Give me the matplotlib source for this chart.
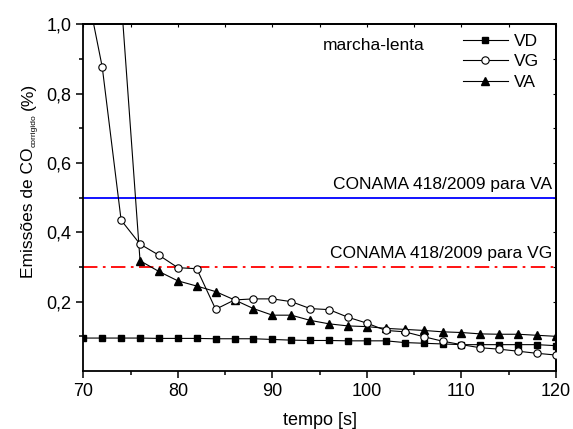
import matplotlib
matplotlib.use("Agg")
import matplotlib.pyplot as plt
from matplotlib.ticker import FixedLocator, MultipleLocator, FuncFormatter

plt.rcParams['font.family'] = ['Liberation Sans', 'DejaVu Sans']

# tempo [s]
tempo = [70, 72, 74, 76, 78, 80, 82, 84, 86, 88, 90, 92, 94, 96, 98,
         100, 102, 104, 106, 108, 110, 112, 114, 116, 118, 120]

# Emissões de CO corrigido (%) por veículo
vd = [0.095, 0.095, 0.095, 0.095, 0.094, 0.094, 0.094, 0.093, 0.093, 0.093,
      0.091, 0.089, 0.088, 0.088, 0.087, 0.087, 0.087, 0.082, 0.080, 0.078,
      0.076, 0.076, 0.076, 0.076, 0.076, 0.073]
vg = [1.15, 0.877, 0.435, 0.366, 0.334, 0.298, 0.295, 0.178, 0.205, 0.208,
      0.208, 0.200, 0.180, 0.177, 0.155, 0.138, 0.117, 0.113, 0.099, 0.086,
      0.076, 0.067, 0.063, 0.057, 0.051, 0.046]
va = [1.60, 1.35, 1.075, 0.318, 0.287, 0.260, 0.245, 0.229, 0.205, 0.180,
      0.161, 0.161, 0.146, 0.136, 0.130, 0.128, 0.123, 0.120, 0.117, 0.113,
      0.111, 0.107, 0.106, 0.106, 0.103, 0.100]

# limites CONAMA 418/2009
limite_va = 0.5
limite_vg = 0.3

W, H = 573, 429
fig = plt.figure(figsize=(W / 100, H / 100), dpi=100)
ax = fig.add_axes([0.1454, 0.1352, 0.8249, 0.8082])

ax.axhline(limite_va, color='#0000ff', lw=1.3, zorder=1)
ax.axhline(limite_vg, color='#ff0000', lw=1.3, ls=(0, (8, 3, 1.5, 3)), zorder=1)

ax.plot(tempo, vd, color='black', lw=0.8, marker='s', ms=4.8,
        mfc='black', mec='black', label='VD', zorder=3)
ax.plot(tempo, vg, color='black', lw=0.8, marker='o', ms=5.3,
        mfc='white', mec='black', mew=0.8, label='VG', zorder=4)
ax.plot(tempo, va, color='black', lw=0.8, marker='^', ms=6.2,
        mfc='black', mec='black', label='VA', zorder=3)

ax.set_xlim(70, 120)
ax.set_ylim(0, 1.0)
ax.xaxis.set_major_locator(MultipleLocator(10))
ax.xaxis.set_minor_locator(MultipleLocator(5))
ax.yaxis.set_major_locator(FixedLocator([0.2, 0.4, 0.6, 0.8, 1.0]))
ax.yaxis.set_minor_locator(FixedLocator([0.1, 0.3, 0.5, 0.7, 0.9]))
ax.yaxis.set_major_formatter(FuncFormatter(lambda v, p: f"{v:.1f}".replace('.', ',')))

ax.tick_params(which='major', direction='out', length=5, width=1.1,
               labelsize=13, top=False, right=False)
ax.tick_params(which='minor', direction='out', length=3, width=1.1,
               top=False, right=False)

secx = ax.secondary_xaxis('top')
secx.xaxis.set_major_locator(MultipleLocator(10))
secx.xaxis.set_minor_locator(MultipleLocator(5))
secx.tick_params(which='both', direction='in', length=2, width=0.8, labeltop=False)
secy = ax.secondary_yaxis('right')
secy.yaxis.set_major_locator(FixedLocator([0.2, 0.4, 0.6, 0.8, 1.0]))
secy.yaxis.set_minor_locator(FixedLocator([0.1, 0.3, 0.5, 0.7, 0.9]))
secy.tick_params(which='both', direction='in', length=2, width=0.8, labelright=False)

for sp in ax.spines.values():
    sp.set_linewidth(1.3)
secx.spines['top'].set_linewidth(1.3)
secy.spines['right'].set_linewidth(1.3)

ax.set_xlabel('tempo [s]', fontsize=13, labelpad=9)

# y label assembled from pieces so the subscript can be set in a small size
fig.canvas.draw()
renderer = fig.canvas.get_renderer()
y_px = 278
t_main = fig.text(33 / W, 1 - y_px / H, 'Emissões de CO', rotation=90,
                  rotation_mode='anchor', ha='left', va='baseline', fontsize=12.5)
bb = t_main.get_window_extent(renderer)
t_sub = fig.text(36 / W, (bb.y1 + 0.5) / H, 'corrigido', rotation=90,
                 rotation_mode='anchor', ha='left', va='baseline', fontsize=6)
bb2 = t_sub.get_window_extent(renderer)
fig.text(33 / W, (bb2.y1 + 4) / H, '(%)', rotation=90,
         rotation_mode='anchor', ha='left', va='baseline', fontsize=12.5)

ax.text(119.6, 0.515, 'CONAMA 418/2009 para VA', ha='right', va='bottom', fontsize=12.5)
ax.text(119.6, 0.318, 'CONAMA 418/2009 para VG', ha='right', va='bottom', fontsize=12.5)
ax.text(95.3, 0.94, 'marcha-lenta', ha='left', va='center', fontsize=12.5)

ax.legend(loc='upper left', bbox_to_anchor=(0.803, 0.973), frameon=False,
          fontsize=12.5, handlelength=2.6, handletextpad=0.35,
          labelspacing=0.31, borderpad=0.0, borderaxespad=0.0)

fig.savefig('out.png', dpi=100)
